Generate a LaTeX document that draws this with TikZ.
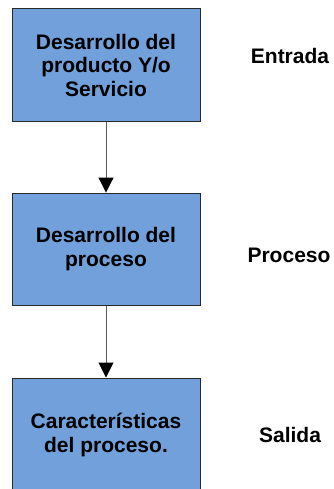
\documentclass[tikz,border=0pt]{standalone}
\usepackage{fontspec}
\setmainfont{Liberation Sans}
\usetikzlibrary{arrows.meta}
\definecolor{boxblue}{RGB}{114,160,218}
\definecolor{edgegray}{RGB}{40,40,40}
\definecolor{linkgray}{RGB}{90,90,90}
\tikzset{
  stagebox/.style={draw=edgegray, line width=1pt, fill=boxblue,
    minimum width=188pt, inner sep=0pt, align=center,
    font=\fontsize{21}{23.5}\selectfont\bfseries},
  stagelabel/.style={inner sep=0pt, font=\fontsize{21}{23.5}\selectfont\bfseries},
  link/.style={draw=linkgray, line width=1pt,
    -{Triangle[length=15pt,width=15pt,color=black]}}
}
\begin{document}
\begin{tikzpicture}[x=1pt,y=-1pt]
  \useasboundingbox (0,0) rectangle (333,489);
  % stages of the flow
  \node[stagebox, minimum height=113pt] (b1) at (106,65.2)
    {Desarrollo del\\producto Y/o\\Servicio};
  \node[stagebox, minimum height=112.5pt] (b2) at (106,249.3)
    {Desarrollo del\\proceso};
  \node[stagebox, minimum height=114pt] (b3) at (106,435)
    {Características\\del proceso.};
  % connectors
  \draw[link] (b1.south) -- (b2.north);
  \draw[link] (b2.south) -- (b3.north);
  % side labels
  \node[stagelabel] (l1) at (290,56) {Entrada};
  \node[stagelabel] (l2) at (289,255) {Proceso};
  \node[stagelabel] (l3) at (290,434.5) {Salida};
\end{tikzpicture}
\end{document}
